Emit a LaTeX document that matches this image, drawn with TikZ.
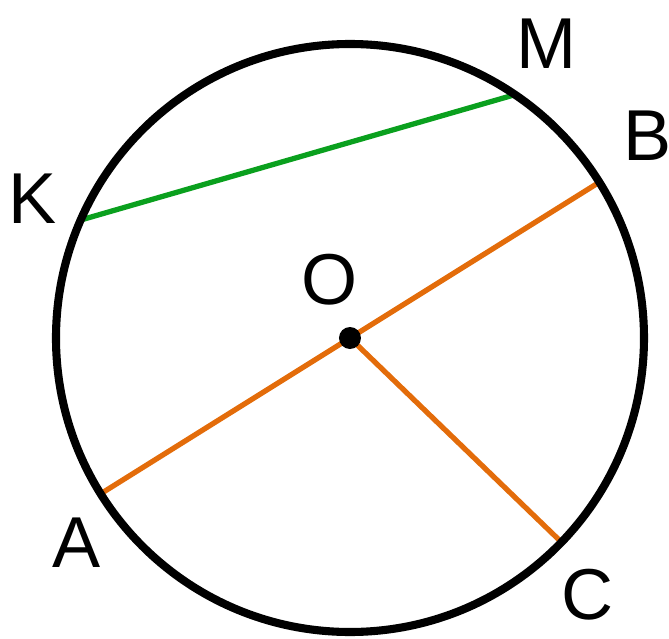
\documentclass[tikz,border=0pt]{standalone}
\usepackage{fontspec}
\setmainfont{Liberation Sans}
\usetikzlibrary{positioning,calc}
\definecolor{chordgreen}{HTML}{0AA01E}
\definecolor{radiusorange}{HTML}{E36C0A}

\begin{document}
\begin{tikzpicture}[x=0.01cm, y=0.01cm]
    \tikzset{
        lbl/.style={inner sep=0pt, font=\fontsize{20.5}{24}\selectfont},
        seg/.style={line width=1.5pt, line cap=butt}
    }
    \useasboundingbox (-350, -301) rectangle (319, 338);

    \coordinate (O) at (0, 0);
    \coordinate (A) at (212:295);
    \coordinate (B) at (32:295);
    \coordinate (C) at (-44:295);
    \coordinate (K) at (156.5:295);
    \coordinate (M) at (55.7:295);

    \draw[seg, chordgreen] (K) -- (M);
    \draw[seg, radiusorange] (A) -- (B);
    \draw[seg, radiusorange] (O) -- (C);
    \draw[line width=2.3pt, black] (O) circle (294);
    \fill[black] (O) circle (11);

    \node[lbl] (labO) at (-20, 58) {O};
    \node[lbl] (labA) at (-273, -205) {A};
    \node[lbl] (labB) at (298, 202) {B};
    \node[lbl] (labC) at (238, -257) {C};
    \node[lbl] (labK) at (-317, 139) {K};
    \node[lbl] (labM) at (197, 294) {M};
\end{tikzpicture}
\end{document}
